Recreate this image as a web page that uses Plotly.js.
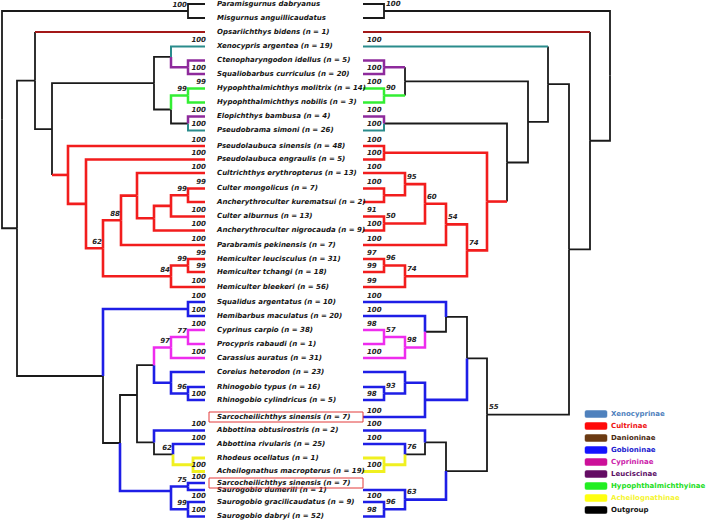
<!DOCTYPE html>
<html><head><meta charset="utf-8">
<script src="https://cdn.plot.ly/plotly-3.0.1.min.js"></script>
<style>html,body{margin:0;padding:0;background:#fff}#chart{width:709px;height:520px}</style>
</head><body><div id="chart"></div>
<script>
// ---- data ----
const leafNames = [
  "Paramisgurnus dabryanus","Misgurnus anguillicaudatus","Opsariichthys bidens (n = 1)",
  "Xenocypris argentea (n = 19)","Ctenopharyngodon idellus (n = 5)","Squaliobarbus curriculus (n = 20)",
  "Hypophthalmichthys molitrix (n = 14)","Hypophthalmichthys nobilis (n = 3)","Elopichthys bambusa (n = 4)",
  "Pseudobrama simoni (n = 26)","Pseudolaubuca sinensis (n = 48)","Pseudolaubuca engraulis (n = 5)",
  "Cultrichthys erythropterus (n = 13)","Culter mongolicus (n = 7)","Ancherythroculter kurematsui (n = 2)",
  "Culter alburnus (n = 13)","Ancherythroculter nigrocauda (n = 9)","Parabramis pekinensis (n = 7)",
  "Hemiculter leucisculus (n = 31)","Hemiculter tchangi (n = 18)","Hemiculter bleekeri (n = 56)",
  "Squalidus argentatus (n = 10)","Hemibarbus maculatus (n = 20)","Cyprinus carpio (n = 38)",
  "Procypris rabaudi (n = 1)","Carassius auratus (n = 31)","Coreius heterodon (n = 23)",
  "Rhinogobio typus (n = 16)","Rhinogobio cylindricus (n = 5)","Sarcocheilichthys sinensis (n = 7)",
  "Abbottina obtusirostris (n = 2)","Abbottina rivularis (n = 25)","Rhodeus ocellatus (n = 1)",
  "Acheilognathus macropterus (n = 19)","Sarcocheilichthys sinensis (n = 7)","Saurogobio dumerili (n = 1)",
  "Saurogobio gracilicaudatus (n = 9)","Saurogobio dabryi (n = 52)"
];
const rowY = [4,18,32,46.5,60.5,74,88.5,102.5,116.5,130.5,146,159.5,173,188.5,202,216.5,230.5,245,
  259,272,287,302,316,330,344,358,372,387,400,417,430.5,444,458,471.5,483,490,502,516.5];
const boxedRows = [29, 34];

// trees: leaf = row index; #support  @node depth  {horizontal/vertical colour}  ^fixed row
const leftTree = `(
 (0,1)#100@188,
 ((2{d/k},
   (((3#100{t},(4,5#100)@188{p})@171,((6#99,7)#99@188{g},(8#100{p},9#100{t})@188)@171)@154,
    (10#100,(11#100,(((12#100,(((13#99,14)#99@188,15#100)@171,16#100)@154)@137,17#100)#88@121,
      ((18#99,19#99)#99@188,20#100)#84@171)#62@103)@86)@68{r/k}
   )@52
  )@35,
  ((21#100,22#100)@188{b},
   (((((23#100,24)#77@188,25#100)#97@171{m},(26,(27,28#100)#96@188)@171{b})@154,
     (30#100{b},(31#100{b},(32,33#100)@193{y})#62@173)@154)@137^395,
    ((34#100,35)#75@188,(36#100,37#100)#99@188)@171{b}^491
   )@120
  )@103
 )@17
)@2`;

const rightTree = `(
 (0,1)#100@384,
 (2{d/k},
  ((3#100{t/k},
    (((4,5#100)@384{p/k},(6#100,7)#90@384{g/k})@405,
     ((8#100{p},9#100{t})@384,
      ((10#100,11#100)@384,
       ((((12#100,(13#100,14)@384)#95@405,(15#91,16#100)#50@384)#60@425,17#100)#54@446,
        ((18#97,19#99)#96@384,20#99)#74@405)#74@467
      )@487{r/k}
     )@507
    )@528
   )@548,
   (((21#100{b},(22#100{b},((23#98,24)#57@384,25#100)#98@405{m})@425)@446,
     ((26,(27,28#98)#93@384)@405,29#100)@425{b})@467,
    ((30#100{b},(31#100{b},(32,33#100)@384{y})#76@405)@425,
     (35,(36#100,37#98)#96@384)#63@405{b})@446
   )#55@487
  )@569
 )@590
)@610`;

const legendNames = ["Xenocyprinae","Cultrinae","Danioninae","Gobioninae","Cyprininae","Leuciscinae",
  "Hypophthalmichthyinae","Acheilognathinae","Outgroup"];
const legendSwatch = ["#4f81bd","#ff0a0a","#6b3a12","#1414ff","#cc1099","#640c64","#22ee22","#ffff10","#000000"];
const legendText = ["#4f81bd","#ee1111","#4a2a10","#1a1ad0","#cc22aa","#5c0f66","#22dd22","#f5f530","#111111"];

// ---- styles ----
const COL = {k:'#1a1a1a', d:'#a31818', t:'#2a8c8c', p:'#8e2a9c', g:'#33ee33', r:'#f21d1d', b:'#1e1ee6', m:'#ee2cee', y:'#f0f020'};
const WID = {k:1.8, d:2, t:2, p:2.5, g:2.5, r:2.6, b:2.6, m:2.5, y:2.8};
const FONT = 'DejaVu Sans, Verdana, sans-serif';
const LEFT_TIP = 205, RIGHT_TIP = 363, NAME_X = 217;

function parseTree(src) {
  const s = src.replace(/\s+/g, '');
  let i = 0;
  function node() {
    const n = {};
    if (s[i] === '(') {
      i++; n.kids = [node()];
      while (s[i] === ',') { i++; n.kids.push(node()); }
      i++; // ')'
    } else {
      const m = /^\d+/.exec(s.slice(i)); n.leaf = +m[0]; i += m[0].length;
    }
    while (i < s.length && '#@{^'.includes(s[i])) {
      const c = s[i++];
      if (c === '{') { const j = s.indexOf('}', i); const p = s.slice(i, j).split('/'); n.hc = p[0]; n.vfix = p[1]; i = j + 1; }
      else { const m = /^[\d.]+/.exec(s.slice(i)); i += m[0].length;
        if (c === '#') n.sup = m[0]; else if (c === '@') n.x = +m[0]; else n.yfix = +m[0]; }
    }
    return n;
  }
  return node();
}
function place(n, tipX, inh) {
  n.hc = n.hc || inh; n.vc = n.vfix || n.hc;
  if (n.kids) { n.kids.forEach(k => place(k, tipX, n.hc));
    n.y = n.yfix !== undefined ? n.yfix : (n.kids[0].y + n.kids[n.kids.length - 1].y) / 2; }
  else { n.x = tipX; n.y = rowY[n.leaf]; }
}
function segments(root, groups) {
  function add(key, pts) { const g = groups[key] || (groups[key] = {x: [], y: []});
    pts.forEach(p => { g.x.push(p[0]); g.y.push(p[1]); }); g.x.push(null); g.y.push(null); }
  (function walk(n) {
    if (!n.kids) return;
    n.kids.forEach(k => {
      if (k.vc === k.hc) add(k.hc, [[n.x, n.y], [n.x, k.y], [k.x, k.y]]);
      else { add(k.vc, [[n.x, n.y], [n.x, k.y]]); add(k.hc, [[n.x, k.y], [k.x, k.y]]); }
      walk(k);
    });
  })(root);
}
function supports(root, side) {
  const out = {x: [], y: [], t: []};
  (function walk(n) {
    if (n.sup) {
      if (!n.kids) { out.x.push(side === 'L' ? n.x + 1 : n.x + 4); out.y.push(n.y - 6); }
      else { out.x.push(side === 'L' ? n.x - 1 : n.x + 2); out.y.push(n.y - (side === 'L' ? 6 : 7)); }
      out.t.push(n.sup);
    }
    if (n.kids) n.kids.forEach(walk);
  })(root);
  return out;
}

const L = parseTree(leftTree); place(L, LEFT_TIP, 'k');
const R = parseTree(rightTree); place(R, RIGHT_TIP, 'k');
const groupsL = {}, groupsR = {};
segments(L, groupsL); segments(R, groupsR);

const traces = [];
[groupsL, groupsR].forEach(gs => Object.keys(gs).forEach(key => {
  traces.push({type: 'scatter', mode: 'lines', x: gs[key].x, y: gs[key].y, hoverinfo: 'skip',
    line: {color: COL[key], width: WID[key]}, connectgaps: false});
}));

const supFont = {family: FONT, size: 7, color: '#222', weight: 'bold', style: 'italic'};
const sL = supports(L, 'L'), sR = supports(R, 'R');
traces.push({type: 'scatter', mode: 'text', x: sL.x, y: sL.y, text: sL.t, textposition: 'middle left', textfont: supFont, hoverinfo: 'skip', cliponaxis: false});
traces.push({type: 'scatter', mode: 'text', x: sR.x, y: sR.y, text: sR.t, textposition: 'middle right', textfont: supFont, hoverinfo: 'skip', cliponaxis: false});

traces.push({type: 'scatter', mode: 'text', x: leafNames.map(() => NAME_X), y: rowY, text: leafNames,
  textposition: 'middle right', hoverinfo: 'skip', cliponaxis: false,
  textfont: {family: FONT, size: 7, color: '#141414', weight: 'bold', style: 'italic'}});

const LEG_Y0 = 414, LEG_DY = 12;
traces.push({type: 'scatter', mode: 'text', x: legendNames.map(() => 611), y: legendNames.map((_, i) => LEG_Y0 + i * LEG_DY),
  text: legendNames, textposition: 'middle right', hoverinfo: 'skip', cliponaxis: false,
  textfont: {family: FONT, size: 7, color: legendText, weight: 'bold'}});

const shapes = [];
boxedRows.forEach(r => shapes.push({type: 'rect', xref: 'x', yref: 'y', x0: 209, x1: 363, y0: rowY[r] - 5, y1: rowY[r] + 5,
  line: {color: '#e23a3a', width: 1}, fillcolor: 'rgba(0,0,0,0)'}));
legendNames.forEach((_, i) => {
  const y = LEG_Y0 + i * LEG_DY, x0 = 585, x1 = 607, h = 3.5, r = 1.5;
  shapes.push({type: 'path', xref: 'x', yref: 'y',
    path: `M${x0 + r},${y - h} L${x1 - r},${y - h} Q${x1},${y - h} ${x1},${y - h + r} L${x1},${y + h - r} Q${x1},${y + h} ${x1 - r},${y + h} L${x0 + r},${y + h} Q${x0},${y + h} ${x0},${y + h - r} L${x0},${y - h + r} Q${x0},${y - h} ${x0 + r},${y - h} Z`,
    fillcolor: legendSwatch[i], line: {color: legendSwatch[i], width: 0.5}});
});

const layout = {
  width: 709, height: 520, margin: {l: 0, r: 0, t: 0, b: 0},
  paper_bgcolor: '#fff', plot_bgcolor: '#fff', showlegend: false, hovermode: false,
  xaxis: {range: [0, 709], visible: false, fixedrange: true},
  yaxis: {range: [520, 0], visible: false, fixedrange: true},
  shapes: shapes
};
Plotly.newPlot('chart', traces, layout, {displayModeBar: false, staticPlot: true});
</script></body></html>
